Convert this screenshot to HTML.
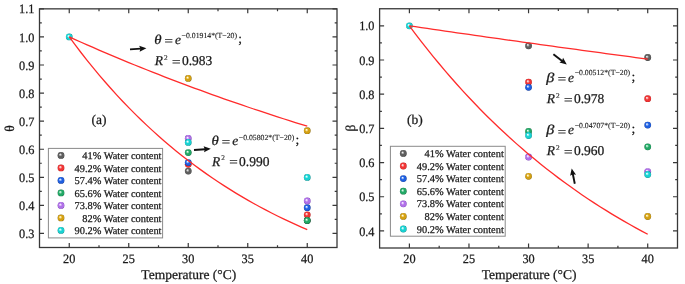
<!DOCTYPE html><html><head><meta charset="utf-8"><style>html,body{margin:0;padding:0;background:#fff;width:685px;height:284px;overflow:hidden}svg{display:block;will-change:transform}</style></head><body>
<svg width="685" height="284" viewBox="0 0 685 284" text-rendering="geometricPrecision">
<defs>
<radialGradient id="ggray" cx="0.5" cy="0.5" r="0.5" fx="0.36" fy="0.34"><stop offset="0" stop-color="#ffffff"/><stop offset="0.16" stop-color="#d0d0d0"/><stop offset="0.5" stop-color="#5e5e5e"/><stop offset="0.85" stop-color="#5e5e5e"/><stop offset="1" stop-color="#343434"/></radialGradient>
<radialGradient id="gred" cx="0.5" cy="0.5" r="0.5" fx="0.36" fy="0.34"><stop offset="0" stop-color="#ffffff"/><stop offset="0.16" stop-color="#ffc8c8"/><stop offset="0.5" stop-color="#f03535"/><stop offset="0.85" stop-color="#f03535"/><stop offset="1" stop-color="#b81818"/></radialGradient>
<radialGradient id="gblue" cx="0.5" cy="0.5" r="0.5" fx="0.36" fy="0.34"><stop offset="0" stop-color="#ffffff"/><stop offset="0.16" stop-color="#bcd4ff"/><stop offset="0.5" stop-color="#1e5fe0"/><stop offset="0.85" stop-color="#1e5fe0"/><stop offset="1" stop-color="#0c3596"/></radialGradient>
<radialGradient id="ggreen" cx="0.5" cy="0.5" r="0.5" fx="0.36" fy="0.34"><stop offset="0" stop-color="#ffffff"/><stop offset="0.16" stop-color="#b8ecd0"/><stop offset="0.5" stop-color="#22a866"/><stop offset="0.85" stop-color="#22a866"/><stop offset="1" stop-color="#0f6e3c"/></radialGradient>
<radialGradient id="gpurple" cx="0.5" cy="0.5" r="0.5" fx="0.36" fy="0.34"><stop offset="0" stop-color="#ffffff"/><stop offset="0.16" stop-color="#ecd6ff"/><stop offset="0.5" stop-color="#b070e8"/><stop offset="0.85" stop-color="#b070e8"/><stop offset="1" stop-color="#7a3fb8"/></radialGradient>
<radialGradient id="ggold" cx="0.5" cy="0.5" r="0.5" fx="0.36" fy="0.34"><stop offset="0" stop-color="#ffffff"/><stop offset="0.16" stop-color="#ffeeb0"/><stop offset="0.5" stop-color="#d4a012"/><stop offset="0.85" stop-color="#d4a012"/><stop offset="1" stop-color="#8c6a08"/></radialGradient>
<radialGradient id="gcyan" cx="0.5" cy="0.5" r="0.5" fx="0.36" fy="0.34"><stop offset="0" stop-color="#ffffff"/><stop offset="0.16" stop-color="#c0fbfb"/><stop offset="0.5" stop-color="#18d2d2"/><stop offset="0.85" stop-color="#18d2d2"/><stop offset="1" stop-color="#0a9090"/></radialGradient>
</defs>
<rect width="685" height="284" fill="#fff"/>
<path d="M69.25 247.50v-4.5M69.25 8.85v4.5M128.75 247.50v-4.5M128.75 8.85v4.5M188.25 247.50v-4.5M188.25 8.85v4.5M247.75 247.50v-4.5M247.75 8.85v4.5M307.25 247.50v-4.5M307.25 8.85v4.5M99.00 247.50v-2.3M99.00 8.85v2.3M158.50 247.50v-2.3M158.50 8.85v2.3M218.00 247.50v-2.3M218.00 8.85v2.3M277.50 247.50v-2.3M277.50 8.85v2.3M39.50 233.46h4.5M337.00 233.46h-4.5M39.50 205.39h4.5M337.00 205.39h-4.5M39.50 177.31h4.5M337.00 177.31h-4.5M39.50 149.23h4.5M337.00 149.23h-4.5M39.50 121.16h4.5M337.00 121.16h-4.5M39.50 93.08h4.5M337.00 93.08h-4.5M39.50 65.00h4.5M337.00 65.00h-4.5M39.50 36.93h4.5M337.00 36.93h-4.5M39.50 8.85h4.5M337.00 8.85h-4.5M39.50 219.42h2.3M337.00 219.42h-2.3M39.50 191.35h2.3M337.00 191.35h-2.3M39.50 163.27h2.3M337.00 163.27h-2.3M39.50 135.19h2.3M337.00 135.19h-2.3M39.50 107.12h2.3M337.00 107.12h-2.3M39.50 79.04h2.3M337.00 79.04h-2.3M39.50 50.96h2.3M337.00 50.96h-2.3M39.50 22.89h2.3M337.00 22.89h-2.3" stroke="#383838" stroke-width="1.2" fill="none"/>
<rect x="39.5" y="8.85" width="297.50" height="238.65" fill="none" stroke="#383838" stroke-width="1.3"/>
<text transform="translate(34.40,238.06) scale(0.96,1.0)" font-family="Liberation Serif, serif" stroke="#1a1a1a" stroke-width="0.25" font-size="12.8" text-anchor="end" fill="#1a1a1a" >0.3</text>
<text transform="translate(34.40,209.99) scale(0.96,1.0)" font-family="Liberation Serif, serif" stroke="#1a1a1a" stroke-width="0.25" font-size="12.8" text-anchor="end" fill="#1a1a1a" >0.4</text>
<text transform="translate(34.40,181.91) scale(0.96,1.0)" font-family="Liberation Serif, serif" stroke="#1a1a1a" stroke-width="0.25" font-size="12.8" text-anchor="end" fill="#1a1a1a" >0.5</text>
<text transform="translate(34.40,153.83) scale(0.96,1.0)" font-family="Liberation Serif, serif" stroke="#1a1a1a" stroke-width="0.25" font-size="12.8" text-anchor="end" fill="#1a1a1a" >0.6</text>
<text transform="translate(34.40,125.76) scale(0.96,1.0)" font-family="Liberation Serif, serif" stroke="#1a1a1a" stroke-width="0.25" font-size="12.8" text-anchor="end" fill="#1a1a1a" >0.7</text>
<text transform="translate(34.40,97.68) scale(0.96,1.0)" font-family="Liberation Serif, serif" stroke="#1a1a1a" stroke-width="0.25" font-size="12.8" text-anchor="end" fill="#1a1a1a" >0.8</text>
<text transform="translate(34.40,69.60) scale(0.96,1.0)" font-family="Liberation Serif, serif" stroke="#1a1a1a" stroke-width="0.25" font-size="12.8" text-anchor="end" fill="#1a1a1a" >0.9</text>
<text transform="translate(34.40,41.53) scale(0.96,1.0)" font-family="Liberation Serif, serif" stroke="#1a1a1a" stroke-width="0.25" font-size="12.8" text-anchor="end" fill="#1a1a1a" >1.0</text>
<text transform="translate(34.40,13.45) scale(0.96,1.0)" font-family="Liberation Serif, serif" stroke="#1a1a1a" stroke-width="0.25" font-size="12.8" text-anchor="end" fill="#1a1a1a" >1.1</text>
<text transform="translate(69.25,263.00) scale(0.96,1.0)" font-family="Liberation Serif, serif" stroke="#1a1a1a" stroke-width="0.25" font-size="12.8" text-anchor="middle" fill="#1a1a1a" >20</text>
<text transform="translate(128.75,263.00) scale(0.96,1.0)" font-family="Liberation Serif, serif" stroke="#1a1a1a" stroke-width="0.25" font-size="12.8" text-anchor="middle" fill="#1a1a1a" >25</text>
<text transform="translate(188.25,263.00) scale(0.96,1.0)" font-family="Liberation Serif, serif" stroke="#1a1a1a" stroke-width="0.25" font-size="12.8" text-anchor="middle" fill="#1a1a1a" >30</text>
<text transform="translate(247.75,263.00) scale(0.96,1.0)" font-family="Liberation Serif, serif" stroke="#1a1a1a" stroke-width="0.25" font-size="12.8" text-anchor="middle" fill="#1a1a1a" >35</text>
<text transform="translate(307.25,263.00) scale(0.96,1.0)" font-family="Liberation Serif, serif" stroke="#1a1a1a" stroke-width="0.25" font-size="12.8" text-anchor="middle" fill="#1a1a1a" >40</text>
<text transform="translate(188.75,279.20) scale(1.0,1.0)" font-family="Liberation Serif, serif" stroke="#1a1a1a" stroke-width="0.25" font-size="13.5" text-anchor="middle" fill="#1a1a1a" >Temperature (°C)</text>
<text transform="translate(13.6,128.4) rotate(-90)" font-family="Liberation Serif, serif" stroke="#1a1a1a" stroke-width="0.25" font-size="13.5" text-anchor="middle" fill="#1a1a1a">θ</text>
<text transform="translate(91.50,124.00) scale(1.0,1.0)" font-family="Liberation Serif, serif" stroke="#1a1a1a" stroke-width="0.25" font-size="13.5" text-anchor="start" fill="#1a1a1a" >(a)</text>
<rect x="48.4" y="148.4" width="114.2" height="89.5" fill="#fff" stroke="#8a8a8a" stroke-width="1"/>
<circle cx="61.00" cy="155.40" r="3.4" fill="url(#ggray)"/>
<text transform="translate(161.50,159.00) scale(1.0,1.0)" font-family="Liberation Serif, serif" stroke="#1a1a1a" stroke-width="0.25" font-size="10.4" text-anchor="end" fill="#1a1a1a" >41% Water content</text>
<circle cx="61.00" cy="167.90" r="3.4" fill="url(#gred)"/>
<text transform="translate(161.50,171.50) scale(1.0,1.0)" font-family="Liberation Serif, serif" stroke="#1a1a1a" stroke-width="0.25" font-size="10.4" text-anchor="end" fill="#1a1a1a" >49.2% Water content</text>
<circle cx="61.00" cy="180.40" r="3.4" fill="url(#gblue)"/>
<text transform="translate(161.50,184.00) scale(1.0,1.0)" font-family="Liberation Serif, serif" stroke="#1a1a1a" stroke-width="0.25" font-size="10.4" text-anchor="end" fill="#1a1a1a" >57.4% Water content</text>
<circle cx="61.00" cy="192.90" r="3.4" fill="url(#ggreen)"/>
<text transform="translate(161.50,196.50) scale(1.0,1.0)" font-family="Liberation Serif, serif" stroke="#1a1a1a" stroke-width="0.25" font-size="10.4" text-anchor="end" fill="#1a1a1a" >65.6% Water content</text>
<circle cx="61.00" cy="205.40" r="3.4" fill="url(#gpurple)"/>
<text transform="translate(161.50,209.00) scale(1.0,1.0)" font-family="Liberation Serif, serif" stroke="#1a1a1a" stroke-width="0.25" font-size="10.4" text-anchor="end" fill="#1a1a1a" >73.8% Water content</text>
<circle cx="61.00" cy="217.90" r="3.4" fill="url(#ggold)"/>
<text transform="translate(161.50,221.50) scale(1.0,1.0)" font-family="Liberation Serif, serif" stroke="#1a1a1a" stroke-width="0.25" font-size="10.4" text-anchor="end" fill="#1a1a1a" >82% Water content</text>
<circle cx="61.00" cy="230.40" r="3.4" fill="url(#gcyan)"/>
<text transform="translate(161.50,234.00) scale(1.0,1.0)" font-family="Liberation Serif, serif" stroke="#1a1a1a" stroke-width="0.25" font-size="10.4" text-anchor="end" fill="#1a1a1a" >90.2% Water content</text>
<circle cx="69.25" cy="36.93" r="3.4" fill="url(#gcyan)"/>
<circle cx="188.25" cy="171.10" r="3.4" fill="url(#ggray)"/>
<circle cx="307.25" cy="220.60" r="3.4" fill="url(#ggray)"/>
<circle cx="188.25" cy="164.30" r="3.4" fill="url(#gred)"/>
<circle cx="307.25" cy="214.80" r="3.4" fill="url(#gred)"/>
<circle cx="188.25" cy="162.60" r="3.4" fill="url(#gblue)"/>
<circle cx="307.25" cy="207.70" r="3.4" fill="url(#gblue)"/>
<circle cx="188.25" cy="152.60" r="3.4" fill="url(#ggreen)"/>
<circle cx="307.25" cy="220.50" r="3.4" fill="url(#ggreen)"/>
<circle cx="188.25" cy="138.50" r="3.4" fill="url(#gpurple)"/>
<circle cx="307.25" cy="200.90" r="3.4" fill="url(#gpurple)"/>
<circle cx="188.25" cy="78.40" r="3.4" fill="url(#ggold)"/>
<circle cx="307.25" cy="130.70" r="3.4" fill="url(#ggold)"/>
<circle cx="188.25" cy="142.40" r="3.4" fill="url(#gcyan)"/>
<circle cx="307.25" cy="177.40" r="3.4" fill="url(#gcyan)"/>
<polyline points="69.25,36.93 75.20,39.60 81.15,42.25 87.10,44.87 93.05,47.47 99.00,50.04 104.95,52.59 110.90,55.12 116.85,57.62 122.80,60.10 128.75,62.55 134.70,64.98 140.65,67.39 146.60,69.77 152.55,72.13 158.50,74.47 164.45,76.79 170.40,79.08 176.35,81.35 182.30,83.61 188.25,85.84 194.20,88.04 200.15,90.23 206.10,92.40 212.05,94.54 218.00,96.67 223.95,98.77 229.90,100.86 235.85,102.92 241.80,104.97 247.75,107.00 253.70,109.00 259.65,110.99 265.60,112.96 271.55,114.91 277.50,116.84 283.45,118.75 289.40,120.65 295.35,122.52 301.30,124.38 307.25,126.22" fill="none" stroke="#ff2b2b" stroke-width="1.3"/>
<polyline points="69.25,36.93 75.20,44.95 81.15,52.75 87.10,60.33 93.05,67.69 99.00,74.84 104.95,81.78 110.90,88.53 116.85,95.08 122.80,101.44 128.75,107.63 134.70,113.63 140.65,119.47 146.60,125.14 152.55,130.64 158.50,135.99 164.45,141.18 170.40,146.23 176.35,151.13 182.30,155.90 188.25,160.52 194.20,165.02 200.15,169.38 206.10,173.62 212.05,177.74 218.00,181.74 223.95,185.63 229.90,189.41 235.85,193.08 241.80,196.64 247.75,200.10 253.70,203.46 259.65,206.73 265.60,209.90 271.55,212.98 277.50,215.98 283.45,218.89 289.40,221.71 295.35,224.45 301.30,227.12 307.25,229.71" fill="none" stroke="#ff2b2b" stroke-width="1.3"/>
<g transform="translate(154.30,43.50)" font-family="Liberation Serif, serif" stroke="#1a1a1a" stroke-width="0.25" font-size="13.5" fill="#1a1a1a"><text transform="scale(1.1,1)" font-style="italic">θ</text><text transform="translate(10.30,1.5) scale(1.1,0.95)">=</text><text x="20.70" y="0" font-style="italic">e</text><text x="27.30" y="-5.30" font-size="7.75" stroke-width="0.12">−0.01914*(T−20)</text><text x="83.90" y="-0.80">;</text></g>
<g transform="translate(154.30,65.30)" font-family="Liberation Serif, serif" stroke="#1a1a1a" stroke-width="0.25" font-size="13.5" fill="#1a1a1a"><text x="0.4" y="0" font-style="italic">R</text><text x="9.7" y="-5.5" font-size="7.3" stroke-width="0.12">2</text><text transform="translate(17.8,0.6) scale(1.12,0.95)">=</text><text x="27.6" y="0">0.983</text></g>
<g transform="translate(211.50,144.90)" font-family="Liberation Serif, serif" stroke="#1a1a1a" stroke-width="0.25" font-size="13.5" fill="#1a1a1a"><text transform="scale(1.1,1)" font-style="italic">θ</text><text transform="translate(10.30,1.5) scale(1.1,0.95)">=</text><text x="20.70" y="0" font-style="italic">e</text><text x="27.30" y="-5.30" font-size="7.75" stroke-width="0.12">−0.05802*(T−20)</text><text x="83.90" y="-0.80">;</text></g>
<g transform="translate(211.50,165.80)" font-family="Liberation Serif, serif" stroke="#1a1a1a" stroke-width="0.25" font-size="13.5" fill="#1a1a1a"><text x="0.4" y="0" font-style="italic">R</text><text x="9.7" y="-5.5" font-size="7.3" stroke-width="0.12">2</text><text transform="translate(17.8,0.6) scale(1.12,0.95)">=</text><text x="27.6" y="0">0.990</text></g>
<line x1="130.00" y1="49.40" x2="140.91" y2="48.67" stroke="#111" stroke-width="1.9"/>
<path d="M146.40 48.30L139.62 51.76L140.41 48.70L139.21 45.78Z" fill="#111"/>
<line x1="194.00" y1="150.00" x2="205.31" y2="149.19" stroke="#111" stroke-width="1.9"/>
<path d="M210.80 148.80L204.03 152.29L204.82 149.23L203.60 146.31Z" fill="#111"/>
<path d="M409.39 248.00v-4.5M409.39 8.75v4.5M468.97 248.00v-4.5M468.97 8.75v4.5M528.55 248.00v-4.5M528.55 8.75v4.5M588.13 248.00v-4.5M588.13 8.75v4.5M647.71 248.00v-4.5M647.71 8.75v4.5M439.18 248.00v-2.3M439.18 8.75v2.3M498.76 248.00v-2.3M498.76 8.75v2.3M558.34 248.00v-2.3M558.34 8.75v2.3M617.92 248.00v-2.3M617.92 8.75v2.3M379.60 230.91h4.5M677.50 230.91h-4.5M379.60 196.73h4.5M677.50 196.73h-4.5M379.60 162.55h4.5M677.50 162.55h-4.5M379.60 128.38h4.5M677.50 128.38h-4.5M379.60 94.20h4.5M677.50 94.20h-4.5M379.60 60.02h4.5M677.50 60.02h-4.5M379.60 25.84h4.5M677.50 25.84h-4.5M379.60 213.82h2.3M677.50 213.82h-2.3M379.60 179.64h2.3M677.50 179.64h-2.3M379.60 145.46h2.3M677.50 145.46h-2.3M379.60 111.29h2.3M677.50 111.29h-2.3M379.60 77.11h2.3M677.50 77.11h-2.3M379.60 42.93h2.3M677.50 42.93h-2.3" stroke="#383838" stroke-width="1.2" fill="none"/>
<rect x="379.6" y="8.75" width="297.90" height="239.25" fill="none" stroke="#383838" stroke-width="1.3"/>
<text transform="translate(374.50,235.51) scale(0.96,1.0)" font-family="Liberation Serif, serif" stroke="#1a1a1a" stroke-width="0.25" font-size="12.8" text-anchor="end" fill="#1a1a1a" >0.4</text>
<text transform="translate(374.50,201.33) scale(0.96,1.0)" font-family="Liberation Serif, serif" stroke="#1a1a1a" stroke-width="0.25" font-size="12.8" text-anchor="end" fill="#1a1a1a" >0.5</text>
<text transform="translate(374.50,167.15) scale(0.96,1.0)" font-family="Liberation Serif, serif" stroke="#1a1a1a" stroke-width="0.25" font-size="12.8" text-anchor="end" fill="#1a1a1a" >0.6</text>
<text transform="translate(374.50,132.98) scale(0.96,1.0)" font-family="Liberation Serif, serif" stroke="#1a1a1a" stroke-width="0.25" font-size="12.8" text-anchor="end" fill="#1a1a1a" >0.7</text>
<text transform="translate(374.50,98.80) scale(0.96,1.0)" font-family="Liberation Serif, serif" stroke="#1a1a1a" stroke-width="0.25" font-size="12.8" text-anchor="end" fill="#1a1a1a" >0.8</text>
<text transform="translate(374.50,64.62) scale(0.96,1.0)" font-family="Liberation Serif, serif" stroke="#1a1a1a" stroke-width="0.25" font-size="12.8" text-anchor="end" fill="#1a1a1a" >0.9</text>
<text transform="translate(374.50,30.44) scale(0.96,1.0)" font-family="Liberation Serif, serif" stroke="#1a1a1a" stroke-width="0.25" font-size="12.8" text-anchor="end" fill="#1a1a1a" >1.0</text>
<text transform="translate(409.39,263.00) scale(0.96,1.0)" font-family="Liberation Serif, serif" stroke="#1a1a1a" stroke-width="0.25" font-size="12.8" text-anchor="middle" fill="#1a1a1a" >20</text>
<text transform="translate(468.97,263.00) scale(0.96,1.0)" font-family="Liberation Serif, serif" stroke="#1a1a1a" stroke-width="0.25" font-size="12.8" text-anchor="middle" fill="#1a1a1a" >25</text>
<text transform="translate(528.55,263.00) scale(0.96,1.0)" font-family="Liberation Serif, serif" stroke="#1a1a1a" stroke-width="0.25" font-size="12.8" text-anchor="middle" fill="#1a1a1a" >30</text>
<text transform="translate(588.13,263.00) scale(0.96,1.0)" font-family="Liberation Serif, serif" stroke="#1a1a1a" stroke-width="0.25" font-size="12.8" text-anchor="middle" fill="#1a1a1a" >35</text>
<text transform="translate(647.71,263.00) scale(0.96,1.0)" font-family="Liberation Serif, serif" stroke="#1a1a1a" stroke-width="0.25" font-size="12.8" text-anchor="middle" fill="#1a1a1a" >40</text>
<text transform="translate(529.05,279.20) scale(1.0,1.0)" font-family="Liberation Serif, serif" stroke="#1a1a1a" stroke-width="0.25" font-size="13.5" text-anchor="middle" fill="#1a1a1a" >Temperature (°C)</text>
<text transform="translate(354.6,128) rotate(-90)" font-family="Liberation Serif, serif" stroke="#1a1a1a" stroke-width="0.25" font-size="13.5" text-anchor="middle" fill="#1a1a1a">β</text>
<text transform="translate(407.00,124.00) scale(1.0,1.0)" font-family="Liberation Serif, serif" stroke="#1a1a1a" stroke-width="0.25" font-size="13.5" text-anchor="start" fill="#1a1a1a" >(b)</text>
<rect x="390.4" y="146.3" width="114.8" height="89.9" fill="#fff" stroke="#8a8a8a" stroke-width="1"/>
<circle cx="403.30" cy="153.40" r="3.4" fill="url(#ggray)"/>
<text transform="translate(503.80,157.00) scale(1.0,1.0)" font-family="Liberation Serif, serif" stroke="#1a1a1a" stroke-width="0.25" font-size="10.4" text-anchor="end" fill="#1a1a1a" >41% Water content</text>
<circle cx="403.30" cy="166.00" r="3.4" fill="url(#gred)"/>
<text transform="translate(503.80,169.60) scale(1.0,1.0)" font-family="Liberation Serif, serif" stroke="#1a1a1a" stroke-width="0.25" font-size="10.4" text-anchor="end" fill="#1a1a1a" >49.2% Water content</text>
<circle cx="403.30" cy="178.60" r="3.4" fill="url(#gblue)"/>
<text transform="translate(503.80,182.20) scale(1.0,1.0)" font-family="Liberation Serif, serif" stroke="#1a1a1a" stroke-width="0.25" font-size="10.4" text-anchor="end" fill="#1a1a1a" >57.4% Water content</text>
<circle cx="403.30" cy="191.20" r="3.4" fill="url(#ggreen)"/>
<text transform="translate(503.80,194.80) scale(1.0,1.0)" font-family="Liberation Serif, serif" stroke="#1a1a1a" stroke-width="0.25" font-size="10.4" text-anchor="end" fill="#1a1a1a" >65.6% Water content</text>
<circle cx="403.30" cy="203.80" r="3.4" fill="url(#gpurple)"/>
<text transform="translate(503.80,207.40) scale(1.0,1.0)" font-family="Liberation Serif, serif" stroke="#1a1a1a" stroke-width="0.25" font-size="10.4" text-anchor="end" fill="#1a1a1a" >73.8% Water content</text>
<circle cx="403.30" cy="216.40" r="3.4" fill="url(#ggold)"/>
<text transform="translate(503.80,220.00) scale(1.0,1.0)" font-family="Liberation Serif, serif" stroke="#1a1a1a" stroke-width="0.25" font-size="10.4" text-anchor="end" fill="#1a1a1a" >82% Water content</text>
<circle cx="403.30" cy="229.00" r="3.4" fill="url(#gcyan)"/>
<text transform="translate(503.80,232.60) scale(1.0,1.0)" font-family="Liberation Serif, serif" stroke="#1a1a1a" stroke-width="0.25" font-size="10.4" text-anchor="end" fill="#1a1a1a" >90.2% Water content</text>
<circle cx="409.39" cy="25.84" r="3.4" fill="url(#gcyan)"/>
<circle cx="528.55" cy="45.80" r="3.4" fill="url(#ggray)"/>
<circle cx="647.71" cy="57.50" r="3.4" fill="url(#ggray)"/>
<circle cx="528.55" cy="82.10" r="3.4" fill="url(#gred)"/>
<circle cx="647.71" cy="98.70" r="3.4" fill="url(#gred)"/>
<circle cx="528.55" cy="87.30" r="3.4" fill="url(#gblue)"/>
<circle cx="647.71" cy="125.10" r="3.4" fill="url(#gblue)"/>
<circle cx="528.55" cy="131.50" r="3.4" fill="url(#ggreen)"/>
<circle cx="647.71" cy="146.80" r="3.4" fill="url(#ggreen)"/>
<circle cx="528.55" cy="157.00" r="3.4" fill="url(#gpurple)"/>
<circle cx="647.71" cy="171.60" r="3.4" fill="url(#gpurple)"/>
<circle cx="528.55" cy="176.30" r="3.4" fill="url(#ggold)"/>
<circle cx="647.71" cy="216.50" r="3.4" fill="url(#ggold)"/>
<circle cx="528.55" cy="135.50" r="3.4" fill="url(#gcyan)"/>
<circle cx="647.71" cy="174.50" r="3.4" fill="url(#gcyan)"/>
<polyline points="409.39,25.84 415.35,26.71 421.31,27.58 427.26,28.45 433.22,29.32 439.18,30.19 445.14,31.05 451.10,31.91 457.05,32.77 463.01,33.62 468.97,34.48 474.93,35.33 480.89,36.18 486.84,37.03 492.80,37.87 498.76,38.72 504.72,39.56 510.68,40.39 516.63,41.23 522.59,42.07 528.55,42.90 534.51,43.73 540.47,44.56 546.42,45.38 552.38,46.21 558.34,47.03 564.30,47.85 570.26,48.67 576.21,49.48 582.17,50.29 588.13,51.11 594.09,51.92 600.05,52.72 606.00,53.53 611.96,54.33 617.92,55.13 623.88,55.93 629.84,56.73 635.79,57.52 641.75,58.32 647.71,59.11" fill="none" stroke="#ff2b2b" stroke-width="1.3"/>
<polyline points="409.39,25.84 415.35,33.79 421.31,41.55 427.26,49.14 433.22,56.55 439.18,63.78 445.14,70.85 451.10,77.75 457.05,84.50 463.01,91.08 468.97,97.51 474.93,103.80 480.89,109.93 486.84,115.93 492.80,121.78 498.76,127.50 504.72,133.09 510.68,138.54 516.63,143.87 522.59,149.07 528.55,154.16 534.51,159.12 540.47,163.97 546.42,168.71 552.38,173.34 558.34,177.86 564.30,182.27 570.26,186.58 576.21,190.79 582.17,194.91 588.13,198.92 594.09,202.85 600.05,206.68 606.00,210.42 611.96,214.08 617.92,217.65 623.88,221.14 629.84,224.55 635.79,227.88 641.75,231.13 647.71,234.30" fill="none" stroke="#ff2b2b" stroke-width="1.3"/>
<g transform="translate(546.30,81.60)" font-family="Liberation Serif, serif" stroke="#1a1a1a" stroke-width="0.25" font-size="13.5" fill="#1a1a1a"><text transform="scale(1.2,1)" font-style="italic">β</text><text transform="translate(11.40,1.5) scale(1.1,0.95)">=</text><text x="21.80" y="0" font-style="italic">e</text><text x="28.40" y="-6.40" font-size="7.75" stroke-width="0.12">−0.00512*(T−20)</text><text x="85.20" y="-0.80">;</text></g>
<g transform="translate(546.30,103.00)" font-family="Liberation Serif, serif" stroke="#1a1a1a" stroke-width="0.25" font-size="13.5" fill="#1a1a1a"><text x="0.4" y="0" font-style="italic">R</text><text x="9.7" y="-5.5" font-size="7.3" stroke-width="0.12">2</text><text transform="translate(17.8,0.6) scale(1.12,0.95)">=</text><text x="27.6" y="0">0.978</text></g>
<g transform="translate(546.30,134.20)" font-family="Liberation Serif, serif" stroke="#1a1a1a" stroke-width="0.25" font-size="13.5" fill="#1a1a1a"><text transform="scale(1.2,1)" font-style="italic">β</text><text transform="translate(11.40,1.5) scale(1.1,0.95)">=</text><text x="21.80" y="0" font-style="italic">e</text><text x="28.40" y="-6.40" font-size="7.75" stroke-width="0.12">−0.04707*(T−20)</text><text x="85.20" y="-0.80">;</text></g>
<g transform="translate(546.30,155.30)" font-family="Liberation Serif, serif" stroke="#1a1a1a" stroke-width="0.25" font-size="13.5" fill="#1a1a1a"><text x="0.4" y="0" font-style="italic">R</text><text x="9.7" y="-5.5" font-size="7.3" stroke-width="0.12">2</text><text transform="translate(17.8,0.6) scale(1.12,0.95)">=</text><text x="27.6" y="0">0.960</text></g>
<line x1="553.40" y1="54.20" x2="562.44" y2="61.15" stroke="#111" stroke-width="1.9"/>
<path d="M566.80 64.50L559.42 62.61L562.04 60.84L563.08 57.86Z" fill="#111"/>
<line x1="574.80" y1="183.70" x2="572.79" y2="173.79" stroke="#111" stroke-width="1.9"/>
<path d="M571.70 168.40L576.03 174.66L572.89 174.28L570.15 175.86Z" fill="#111"/>
</svg></body></html>
